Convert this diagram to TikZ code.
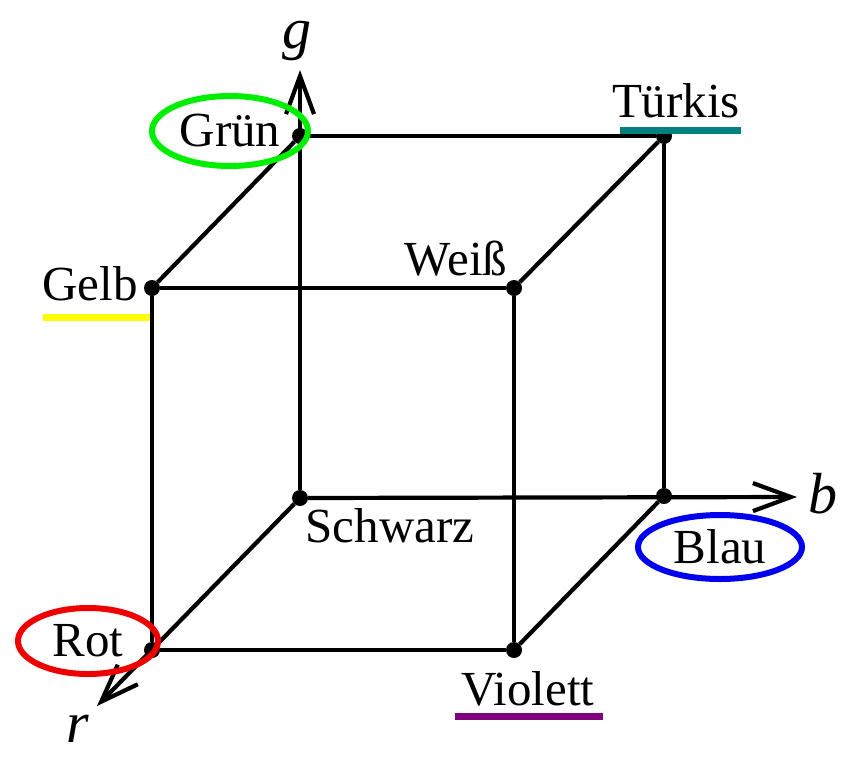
\documentclass[tikz,border=0pt]{standalone}
\usepackage{fontspec}
\setmainfont{Liberation Serif}
\usetikzlibrary{arrows.meta,shapes.geometric}
\definecolor{LabGreen}{HTML}{00EE00}
\definecolor{LabRed}{HTML}{EE0000}
\definecolor{LabBlue}{HTML}{0000EE}
\definecolor{LabTeal}{HTML}{008080}
\definecolor{LabYellow}{HTML}{FFFF00}
\definecolor{LabPurple}{HTML}{800080}

\begin{document}
\begin{tikzpicture}[x=1pt,y=-1pt,
 font=\fontsize{49}{56}\selectfont,
 dot/.style={circle,fill=black,inner sep=0pt,minimum size=16pt},
 edge/.style={line width=4.2pt},
 axis/.style={line width=4.2pt,-{Straight Barb[length=38pt,width=28pt]}},
 lbl/.style={inner sep=0pt,anchor=base},
 axlbl/.style={inner sep=0pt,anchor=base,font=\fontsize{58}{64}\selectfont\itshape},
 ring/.style={ellipse,draw=#1,line width=6pt,inner sep=0pt},
 uline/.style={line width=7pt,draw=#1}]
\useasboundingbox (0,0) rectangle (854,758);
% cube corners
\node[dot] (schwarz) at (300,498) {};
\node[dot] (blau) at (664,496) {};
\node[dot] (gruen) at (300,136) {};
\node[dot] (tuerkis) at (664,136) {};
\node[dot] (rot) at (152,650) {};
\node[dot] (violett) at (514,650) {};
\node[dot] (gelb) at (152,288) {};
\node[dot] (weiss) at (514,288) {};
% axis tips
\coordinate (gtip) at (300,70);
\coordinate (btip) at (797,497);
\coordinate (rtip) at (97,706);
% axes
\draw[axis] (schwarz) -- (gtip);
\draw[axis] (schwarz) -- (btip);
\draw[axis] (schwarz) -- (rtip);
% edges
\draw[edge] (gruen) -- (tuerkis);
\draw[edge] (gruen) -- (gelb);
\draw[edge] (tuerkis) -- (weiss);
\draw[edge] (tuerkis) -- (blau);
\draw[edge] (gelb) -- (weiss);
\draw[edge] (gelb) -- (rot);
\draw[edge] (weiss) -- (violett);
\draw[edge] (rot) -- (violett);
\draw[edge] (blau) -- (violett);
% axis labels
\node[axlbl] (glbl) at (297,48) {g};
\node[axlbl] (blbl) at (823,513) {b};
\node[axlbl] (rlbl) at (78,742) {r};
% colour names
\node[ring=LabGreen,minimum width=156pt,minimum height=70pt] (tgruen) at (230,131) {Grün};
\node[ring=LabBlue,minimum width=164pt,minimum height=64pt] (tblau) at (720,547) {Blau};
\node[ring=LabRed,minimum width=140pt,minimum height=66pt] (trot) at (88,641) {Rot};
\node[lbl] (ttuerkis) at (676,117) {Türkis};
\node[lbl] (tgelb) at (90,300) {Gelb};
\node[lbl] (tweiss) at (456,275) {Weiß};
\node[lbl] (tschwarz) at (390,542) {Schwarz};
\node[lbl] (tviolett) at (528,705) {Violett};
% underlines
\draw[uline=LabTeal] (620,130.5) -- (741,130.5);
\draw[uline=LabYellow] (43,317) -- (150,317);
\draw[uline=LabPurple] (455,716) -- (603,716);
\end{tikzpicture}
\end{document}
